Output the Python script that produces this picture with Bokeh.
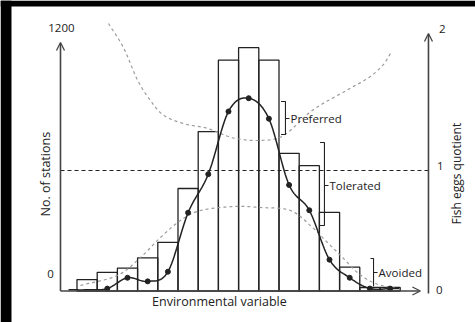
import numpy as np
from bokeh.plotting import figure
from bokeh.models import Range1d, Arrow, OpenHead, ColumnDataSource
from bokeh.core.properties import value
from bokeh.embed import file_html
from bokeh.resources import INLINE

# ---- data -------------------------------------------------------------
# histogram of stations per class of the environmental variable (16 classes)
class_index = list(range(16))
stations = [55, 90, 110, 160, 235, 495, 770, 1115, 1175, 1115, 665, 605, 380, 115, 17, 17]

# fish eggs quotient per class (first class has no marker)
quotient = [0.01, 0.02, 0.11, 0.08, 0.16, 0.65, 0.97, 1.49, 1.60, 1.43,
            0.88, 0.67, 0.26, 0.11, 0.02, 0.02]

# upper / lower confidence limits of the quotient
upper_x = [1.56, 2.30, 3.00, 3.64, 4.28, 5.27, 6.46, 7.75, 9.08, 10.22,
           11.66, 13.29, 14.43, 15.12, 15.52]
upper_q = [2.22, 2.02, 1.75, 1.58, 1.46, 1.39, 1.35, 1.27, 1.25, 1.29,
           1.50, 1.66, 1.77, 1.87, 1.97]
lower_x = [0.17, 2.00, 3.14, 4.13, 5.12, 6.11, 7.75, 9.08, 10.57, 11.66,
           12.30, 13.15, 13.94, 14.78, 15.77]
lower_q = [0.046, 0.129, 0.278, 0.444, 0.585, 0.668, 0.701, 0.693, 0.668,
           0.527, 0.419, 0.278, 0.145, 0.062, 0.021]

left_ticks = ["0", "1200"]
right_ticks = ["0", "1", "2"]

FONT = "Open Sans"
INK = "#222222"
AXIS = "#444444"

X0, X1 = -3.787, 19.728
Y0, Y1 = -152.1, 1402.8


def catmull_rom(xs, ys, n=16):
    """Smooth line through the given points (uniform Catmull-Rom)."""
    pts = np.column_stack([xs, ys]).astype(float)
    pts = np.vstack([2 * pts[0] - pts[1], pts, 2 * pts[-1] - pts[-2]])
    out = []
    t = np.linspace(0, 1, n, endpoint=False)[:, None]
    for i in range(1, len(pts) - 2):
        p0, p1, p2, p3 = pts[i - 1], pts[i], pts[i + 1], pts[i + 2]
        seg = 0.5 * ((2 * p1) + (-p0 + p2) * t
                     + (2 * p0 - 5 * p1 + 4 * p2 - p3) * t ** 2
                     + (-p0 + 3 * p1 - 3 * p2 + p3) * t ** 3)
        out.append(seg)
    out.append(pts[-2][None, :])
    arr = np.vstack(out)
    return arr[:, 0], arr[:, 1]


p = figure(width=475, height=322,
           x_range=Range1d(X0, X1), y_range=Range1d(Y0, Y1),
           x_axis_type=None, y_axis_type=None, min_border=0,
           border_fill_color="white", background_fill_color="white",
           outline_line_color=None, toolbar_location=None, output_backend="svg")
p.extra_y_ranges = {"q": Range1d(-0.2614, 2.411)}

# dark scan margin along the top and left edges
p.quad(left=[X0, X0], right=[-3.243, X1], bottom=[Y0, 1373.9], top=[Y1, Y1],
       fill_color="black", line_color=None)

# ---- histogram --------------------------------------------------------
left = np.array(class_index, dtype=float)
src = ColumnDataSource(dict(left=left, right=left + 1, top=stations))
p.quad(left="left", right="right", bottom=0, top="top", source=src,
       fill_color=None, line_color=INK, line_width=1.3)

# ---- confidence limits ------------------------------------------------
ux, uy = catmull_rom(upper_x, upper_q)
lx, ly = catmull_rom(lower_x, lower_q)
p.line(ux, uy, y_range_name="q", line_color="#9a9a9a", line_width=1.2, line_dash="3 3")
p.line(lx, ly, y_range_name="q", line_color="#9a9a9a", line_width=1.2, line_dash="3 3")

# quotient = 1 reference line
x_left_axis, x_right_axis, x_arrow_end = -0.817, 17.40, 17.0
p.line([x_left_axis, x_right_axis], [1, 1], y_range_name="q",
       line_color=INK, line_width=1.2, line_dash="4 3")

# ---- quotient curve ---------------------------------------------------
centers = left + 0.5
cx = [-0.42] + list(centers) + [15.95]
cy = [0.01] + quotient + [0.02]
sx, sy = catmull_rom(cx, cy)
p.line(sx, sy, y_range_name="q", line_color=INK, line_width=1.5)
p.scatter(centers[1:], quotient[1:], y_range_name="q", size=5,
          fill_color=INK, line_color=INK)

# ---- brackets ---------------------------------------------------------
LABEL_SIZE = "11.5px"


def bracket(x, q_top, q_bot, q_mid, label, hook=0.22, tick=0.2):
    p.multi_line(xs=[[x - hook, x, x, x - hook], [x, x + tick]],
                 ys=[[q_top, q_top, q_bot, q_bot], [q_mid, q_mid]],
                 y_range_name="q", line_color=INK, line_width=1.1)
    p.text([x + tick + 0.05], [q_mid], text=[label], y_range_name="q",
           text_font=value(FONT), text_font_size=LABEL_SIZE, text_color=INK,
           text_baseline="middle", text_align="left")


bracket(10.32, 1.573, 1.299, 1.432, "Preferred")
bracket(12.25, 1.232, 0.544, 0.876, "Tolerated")
p.multi_line(xs=[[14.53, 14.68, 14.68], [14.68, 14.88]],
             ys=[[0.27, 0.27, 0.04], [0.154, 0.154]],
             y_range_name="q", line_color=INK, line_width=1.1)
p.text([14.93], [0.154], text=["Avoided"], y_range_name="q",
       text_font=value(FONT), text_font_size=LABEL_SIZE, text_color=INK,
       text_baseline="middle", text_align="left")

# ---- hand-drawn axes with arrow heads ---------------------------------
p.add_layout(Arrow(end=OpenHead(size=8, line_color=AXIS, line_width=1.3),
                   x_start=x_left_axis, y_start=0, x_end=x_left_axis, y_end=1200,
                   line_color=AXIS, line_width=1.6))
p.add_layout(Arrow(end=OpenHead(size=8, line_color=AXIS, line_width=1.3),
                   x_start=x_left_axis, y_start=0, x_end=x_arrow_end, y_end=0,
                   line_color=AXIS, line_width=1.6))
p.add_layout(Arrow(end=OpenHead(size=8, line_color=AXIS, line_width=1.3),
                   x_start=x_right_axis, y_start=-0.02, x_end=x_right_axis, y_end=2.137,
                   y_range_name="q", line_color=AXIS, line_width=1.6))

# tick labels
TICK_SIZE = "11.5px"
p.text([-1.31, -0.77], [84.5, 1268], text=left_ticks,
       text_font=value(FONT), text_font_size=TICK_SIZE, text_color=INK,
       text_baseline="middle", text_align="center")
p.text([17.94, 17.99, 18.09], [0.01, 1.04, 2.175], text=right_ticks, y_range_name="q",
       text_font=value(FONT), text_font_size=TICK_SIZE, text_color=INK,
       text_baseline="middle", text_align="center")

# axis titles (vertical ones anchored at an end of the text)
TITLE_SIZE = "12.5px"
p.text([-1.56], [360], text=["No. of stations"], angle=np.pi / 2,
       text_font=value(FONT), text_font_size=TITLE_SIZE, text_color=INK,
       text_baseline="middle", text_align="left")
p.text([18.78], [812], text=["Fish eggs quotient"], angle=np.pi / 2,
       text_font=value(FONT), text_font_size="12px", text_color=INK,
       text_baseline="middle", text_align="right")
p.text([7.05], [-50.7], text=["Environmental variable"],
       text_font=value(FONT), text_font_size=TITLE_SIZE, text_color=INK,
       text_baseline="middle", text_align="center")

open("out.html", "w").write(file_html(p, INLINE))
